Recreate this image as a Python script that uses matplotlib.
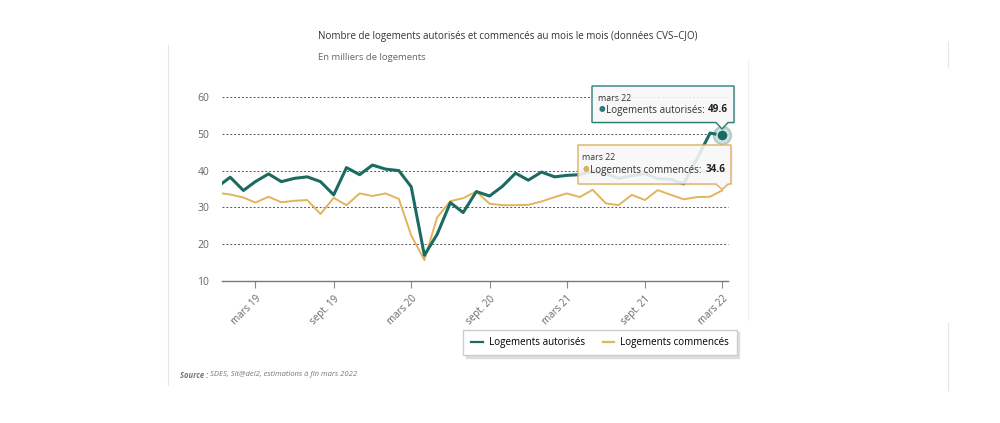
import matplotlib.pyplot as plt
from matplotlib.patches import Polygon
from matplotlib.lines import Line2D
import pandas as pd

plt.rcParams['font.family'] = ['Open Sans', 'DejaVu Sans']

# donnees (milliers de logements, dec. 2018 -> mars 2022)
mois = pd.date_range('2018-12-01', periods=40, freq='MS')
autorises = [35.5, 38.2, 34.6, 37.0, 39.1, 37.0, 37.9, 38.3, 37.0, 33.4,
             40.8, 38.9, 41.5, 40.4, 40.0, 35.6, 17.0, 22.7, 31.3, 28.6,
             34.3, 33.1, 35.7, 39.3, 37.4, 39.6, 38.3, 38.7, 38.9, 39.8,
             39.2, 37.9, 38.6, 39.2, 37.8, 37.6, 36.4, 43.2, 50.2, 49.6]
commences = [34.0, 33.5, 32.7, 31.3, 32.9, 31.4, 31.8, 32.0, 28.2, 32.6,
             30.6, 33.8, 33.1, 33.8, 32.3, 22.4, 15.7, 27.3, 31.7, 32.5,
             34.3, 31.0, 30.6, 30.6, 30.7, 31.6, 32.8, 33.8, 32.8, 34.8,
             31.1, 30.6, 33.4, 32.0, 34.7, 33.4, 32.2, 32.8, 32.9, 34.6]

tick_dates = ['2019-03-01', '2019-09-01', '2020-03-01', '2020-09-01',
              '2021-03-01', '2021-09-01', '2022-03-01']
tick_labels = ['mars 19', 'sept. 19', 'mars 20', 'sept. 20',
               'mars 21', 'sept. 21', 'mars 22']
y_ticks = [10, 20, 30, 40, 50, 60]

VERT = '#1c6b62'
JAUNE = '#e2b45c'
W, H = 1000, 423


def fx(px):
    return px / W


def fy(py):
    return 1 - py / H


fig = plt.figure(figsize=(10, 4.23), dpi=100)
fig.patch.set_facecolor('white')

# zone du graphique
ax = fig.add_axes([fx(221.7), fy(281), (728 - 221.7) / W, (281 - 97) / H])
ax.plot(mois, autorises, color=VERT, lw=2.2, zorder=3, solid_joinstyle='round')
ax.plot(mois, commences, color=JAUNE, lw=1.4, zorder=2, solid_joinstyle='round')
ax.set_ylim(10, 60)
ax.set_xlim(pd.Timestamp('2018-12-12'), pd.Timestamp('2022-03-15'))

for v in y_ticks[1:]:
    ax.axhline(v, color='#555555', lw=0.7, ls=(0, (2, 2)), zorder=1, clip_on=False)

for s in ['top', 'right', 'left']:
    ax.spines[s].set_visible(False)
ax.spines['bottom'].set_color('#777777')
ax.spines['bottom'].set_linewidth(1)

ax.set_yticks(y_ticks)
ax.tick_params(axis='y', length=0, pad=9, labelsize=7.5, labelcolor='#666666')
ax.set_xticks(pd.to_datetime(tick_dates))
ax.set_xticklabels(tick_labels, rotation=45, ha='right', rotation_mode='anchor',
                   fontsize=7, color='#666666')
ax.tick_params(axis='x', length=5, color='#888888', pad=4)

# point survole
ax.plot(mois[-1], autorises[-1], 'o', ms=13, color=VERT, alpha=0.25,
        clip_on=False, zorder=5)
ax.plot(mois[-1], autorises[-1], 'o', ms=8, color=VERT, mec='#d8eeec',
        mew=1, clip_on=False, zorder=6)

# calque en pixels pour les infobulles et cadres
ov = fig.add_axes([0, 0, 1, 1], zorder=10)
ov.set_xlim(0, W)
ov.set_ylim(H, 0)
ov.axis('off')
ov.patch.set_alpha(0)

ov.plot([168, 168], [45, 385], color='#e6e6e6', lw=0.8)
ov.plot([948, 948], [42, 67], color='#e6e6e6', lw=0.8)
ov.plot([948, 948], [323, 390], color='#e6e6e6', lw=0.8)
ov.plot([748, 748], [60, 320], color='#f0f0f0', lw=0.8)

fig.canvas.draw()
renderer = fig.canvas.get_renderer()


def bulle(x0, y0, x1, y1, tip_x, tip_y, couleur, date, nom, valeur,
          x_date, y_date, x_dot, x_nom, y_nom):
    pts = [(x0, y0), (x1, y0), (x1, y1), (tip_x + 6, y1), (tip_x, tip_y),
           (tip_x - 6, y1), (x0, y1)]
    ombre = Polygon([(px + 1.5, py + 1.5) for px, py in pts], closed=True,
                    fc=(0, 0, 0, 0.06), ec='none')
    ov.add_patch(ombre)
    ov.add_patch(Polygon(pts, closed=True, fc=(0.98, 0.98, 0.98, 0.88),
                         ec=couleur, lw=1))
    ov.text(x_date, y_date, date, fontsize=6.3, color='#333333', va='center')
    ov.text(x_dot, y_nom, '●', fontsize=5.5, color=couleur, va='center', ha='center')
    t = ov.text(x_nom, y_nom, nom + ':', fontsize=7.1, color='#333333', va='center')
    bb = t.get_window_extent(renderer)
    ov.text(bb.x1 + 3.5, y_nom, valeur, fontsize=7.1, color='#222222', va='center',
            fontweight='bold')


bulle(592, 86, 734, 122.5, 722, 129, '#2b7d77', 'mars 22', 'Logements autorisés',
      '49.6', 598, 98.5, 601.5, 606, 110)
bulle(578, 145, 731, 184, 722, 189.5, '#dcb062', 'mars 22', 'Logements commencés',
      '34.6', 582.5, 158, 586, 590.5, 170)

# titres
fig.text(fx(508), fy(37), 'Nombre de logements autorisés et commencés au mois le mois '
         '(données CVS–CJO)', ha='center', va='center', fontsize=7, color='#333333')
fig.text(fx(318), fy(57), 'En milliers de logements', ha='left', va='center',
         fontsize=6.8, color='#666666')

# legende
poignees = [Line2D([], [], color=VERT, lw=1.6), Line2D([], [], color=JAUNE, lw=1.6)]
fig.legend(poignees, ['Logements autorisés', 'Logements commencés'], loc='center',
           bbox_to_anchor=(fx(600), fy(342.5)), ncol=2, fontsize=7.1, frameon=True,
           fancybox=False, shadow={'color': '#dddddd', 'alpha': 1}, edgecolor='#cccccc',
           handlelength=1.2, columnspacing=1.8, handletextpad=0.6, borderpad=0.75)

# source
s = fig.text(fx(180), fy(375), 'Source :', ha='left', va='center', fontsize=5.5,
             color='#777777', style='italic', fontweight='bold')
bb = s.get_window_extent(renderer)
fig.text(bb.x1 / W + 0.002, fy(375), 'SDES, Sit@del2, estimations à fin mars 2022',
         ha='left', va='center', fontsize=5.5, color='#777777', style='italic')

fig.savefig('out.png', dpi=100)
